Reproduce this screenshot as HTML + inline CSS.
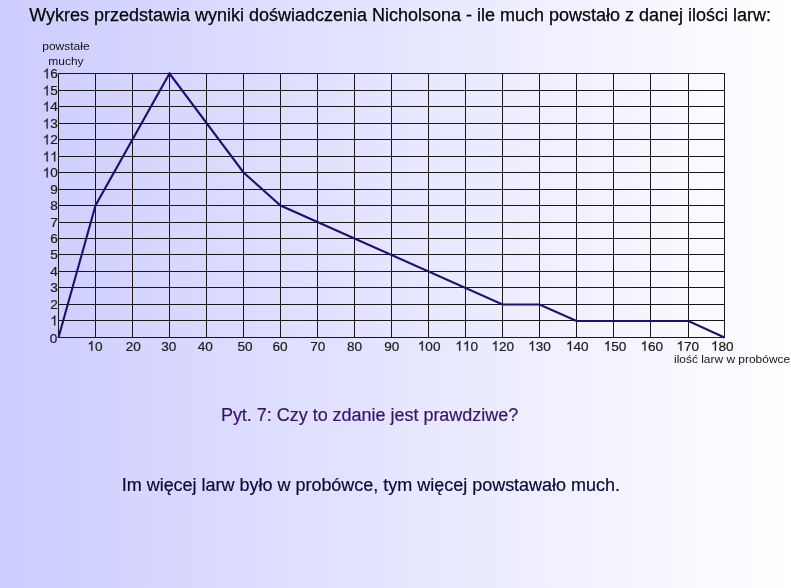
<!DOCTYPE html>
<html lang="pl"><head><meta charset="utf-8"><title>Wykres</title>
<style>
html,body{margin:0;padding:0;width:791px;height:588px;overflow:hidden;background:#fff;}
svg{display:block;will-change:transform;font-family:"Liberation Sans",sans-serif;}
.t{font-size:18px;}
.s{font-size:11.7px;fill:#141414;}
.n{font-size:13.6px;fill:#202020;stroke:#202020;stroke-width:0.22px;}
</style></head><body>
<svg width="791" height="588" viewBox="0 0 791 588">
<defs><linearGradient id="bg" x1="0" y1="0" x2="1" y2="0">
<stop offset="0" stop-color="#ccccff"/><stop offset="1" stop-color="#ffffff"/></linearGradient></defs>
<rect x="0" y="0" width="791" height="588" fill="url(#bg)"/>
<text class="t" x="29.2" y="21.2" fill="#050505" stroke="#050505" stroke-width="0.25" textLength="741.8" lengthAdjust="spacing">Wykres przedstawia wyniki doświadczenia Nicholsona - ile much powstało z danej ilości larw:</text>
<text class="s" transform="translate(65.9 50.3) scale(1.027 1)" text-anchor="middle">powstałe</text>
<text class="s" transform="translate(65.9 64.7) scale(1.027 1)" text-anchor="middle">muchy</text>
<g fill="#1c1616" shape-rendering="crispEdges"><rect x="58" y="73" width="1" height="265"/><rect x="95" y="73" width="1" height="265"/><rect x="132" y="73" width="1" height="265"/><rect x="169" y="73" width="1" height="265"/><rect x="206" y="73" width="1" height="265"/><rect x="243" y="73" width="1" height="265"/><rect x="280" y="73" width="1" height="265"/><rect x="317" y="73" width="1" height="265"/><rect x="354" y="73" width="1" height="265"/><rect x="391" y="73" width="1" height="265"/><rect x="428" y="73" width="1" height="265"/><rect x="465" y="73" width="1" height="265"/><rect x="502" y="73" width="1" height="265"/><rect x="539" y="73" width="1" height="265"/><rect x="576" y="73" width="1" height="265"/><rect x="613" y="73" width="1" height="265"/><rect x="650" y="73" width="1" height="265"/><rect x="688" y="73" width="1" height="265"/><rect x="724" y="73" width="1" height="265"/><rect x="58" y="73" width="667" height="1"/><rect x="58" y="90" width="667" height="1"/><rect x="58" y="106" width="667" height="1"/><rect x="58" y="123" width="667" height="1"/><rect x="58" y="139" width="667" height="1"/><rect x="58" y="156" width="667" height="1"/><rect x="58" y="172" width="667" height="1"/><rect x="58" y="189" width="667" height="1"/><rect x="58" y="205" width="667" height="1"/><rect x="58" y="222" width="667" height="1"/><rect x="58" y="238" width="667" height="1"/><rect x="58" y="254" width="667" height="1"/><rect x="58" y="271" width="667" height="1"/><rect x="58" y="287" width="667" height="1"/><rect x="58" y="304" width="667" height="1"/><rect x="58" y="320" width="667" height="1"/><rect x="58" y="337" width="667" height="1"/></g>
<polyline points="58.50,337.50 95.50,205.50 169.50,73.50 243.50,172.50 280.50,205.50 502.50,304.45 539.50,304.45 576.50,321.00 688.50,321.00 724.50,337.50" fill="none" stroke="#200f6e" stroke-width="2.1" stroke-linejoin="miter"/>
<g class="n">
<text x="49.74" y="343.30">0</text>
<path transform="translate(50.24 325.40) scale(0.006641 -0.006641)" d="M763 0H583V1147Q518 1085 412.5 1023Q307 961 223 930V1104Q374 1175 487 1276Q600 1377 647 1472H763Z" stroke-width="33.1"/>
<text x="50.24" y="309.40">2</text>
<text x="50.24" y="292.40">3</text>
<text x="50.24" y="276.40">4</text>
<text x="50.24" y="259.40">5</text>
<text x="50.24" y="243.40">6</text>
<text x="50.24" y="227.40">7</text>
<text x="50.24" y="210.40">8</text>
<text x="50.24" y="194.40">9</text>
<path transform="translate(42.67 177.40) scale(0.006641 -0.006641)" d="M763 0H583V1147Q518 1085 412.5 1023Q307 961 223 930V1104Q374 1175 487 1276Q600 1377 647 1472H763Z" stroke-width="33.1"/><text x="50.24" y="177.40">0</text>
<path transform="translate(42.67 161.40) scale(0.006641 -0.006641)" d="M763 0H583V1147Q518 1085 412.5 1023Q307 961 223 930V1104Q374 1175 487 1276Q600 1377 647 1472H763Z" stroke-width="33.1"/><path transform="translate(50.24 161.40) scale(0.006641 -0.006641)" d="M763 0H583V1147Q518 1085 412.5 1023Q307 961 223 930V1104Q374 1175 487 1276Q600 1377 647 1472H763Z" stroke-width="33.1"/>
<path transform="translate(42.67 144.40) scale(0.006641 -0.006641)" d="M763 0H583V1147Q518 1085 412.5 1023Q307 961 223 930V1104Q374 1175 487 1276Q600 1377 647 1472H763Z" stroke-width="33.1"/><text x="50.24" y="144.40">2</text>
<path transform="translate(42.67 128.40) scale(0.006641 -0.006641)" d="M763 0H583V1147Q518 1085 412.5 1023Q307 961 223 930V1104Q374 1175 487 1276Q600 1377 647 1472H763Z" stroke-width="33.1"/><text x="50.24" y="128.40">3</text>
<path transform="translate(42.67 111.40) scale(0.006641 -0.006641)" d="M763 0H583V1147Q518 1085 412.5 1023Q307 961 223 930V1104Q374 1175 487 1276Q600 1377 647 1472H763Z" stroke-width="33.1"/><text x="50.24" y="111.40">4</text>
<path transform="translate(42.67 95.40) scale(0.006641 -0.006641)" d="M763 0H583V1147Q518 1085 412.5 1023Q307 961 223 930V1104Q374 1175 487 1276Q600 1377 647 1472H763Z" stroke-width="33.1"/><text x="50.24" y="95.40">5</text>
<path transform="translate(42.67 78.40) scale(0.006641 -0.006641)" d="M763 0H583V1147Q518 1085 412.5 1023Q307 961 223 930V1104Q374 1175 487 1276Q600 1377 647 1472H763Z" stroke-width="33.1"/><text x="50.24" y="78.40">6</text>
<path transform="translate(87.34 350.75) scale(0.006641 -0.006641)" d="M763 0H583V1147Q518 1085 412.5 1023Q307 961 223 930V1104Q374 1175 487 1276Q600 1377 647 1472H763Z" stroke-width="33.1"/><text x="94.90" y="350.75">0</text>
<text x="125.74" y="350.75">2</text><text x="133.30" y="350.75">0</text>
<text x="161.14" y="350.75">3</text><text x="168.70" y="350.75">0</text>
<text x="197.64" y="350.75">4</text><text x="205.20" y="350.75">0</text>
<text x="237.44" y="350.75">5</text><text x="245.00" y="350.75">0</text>
<text x="272.39" y="350.75">6</text><text x="279.95" y="350.75">0</text>
<text x="310.14" y="350.75">7</text><text x="317.70" y="350.75">0</text>
<text x="347.04" y="350.75">8</text><text x="354.60" y="350.75">0</text>
<text x="384.14" y="350.75">9</text><text x="391.70" y="350.75">0</text>
<path transform="translate(417.75 350.75) scale(0.006641 -0.006641)" d="M763 0H583V1147Q518 1085 412.5 1023Q307 961 223 930V1104Q374 1175 487 1276Q600 1377 647 1472H763Z" stroke-width="33.1"/><text x="425.32" y="350.75">0</text><text x="432.88" y="350.75">0</text>
<path transform="translate(455.25 350.75) scale(0.006641 -0.006641)" d="M763 0H583V1147Q518 1085 412.5 1023Q307 961 223 930V1104Q374 1175 487 1276Q600 1377 647 1472H763Z" stroke-width="33.1"/><path transform="translate(462.82 350.75) scale(0.006641 -0.006641)" d="M763 0H583V1147Q518 1085 412.5 1023Q307 961 223 930V1104Q374 1175 487 1276Q600 1377 647 1472H763Z" stroke-width="33.1"/><text x="470.38" y="350.75">0</text>
<path transform="translate(491.45 350.75) scale(0.006641 -0.006641)" d="M763 0H583V1147Q518 1085 412.5 1023Q307 961 223 930V1104Q374 1175 487 1276Q600 1377 647 1472H763Z" stroke-width="33.1"/><text x="499.02" y="350.75">2</text><text x="506.58" y="350.75">0</text>
<path transform="translate(528.10 350.75) scale(0.006641 -0.006641)" d="M763 0H583V1147Q518 1085 412.5 1023Q307 961 223 930V1104Q374 1175 487 1276Q600 1377 647 1472H763Z" stroke-width="33.1"/><text x="535.67" y="350.75">3</text><text x="543.23" y="350.75">0</text>
<path transform="translate(565.95 350.75) scale(0.006641 -0.006641)" d="M763 0H583V1147Q518 1085 412.5 1023Q307 961 223 930V1104Q374 1175 487 1276Q600 1377 647 1472H763Z" stroke-width="33.1"/><text x="573.52" y="350.75">4</text><text x="581.08" y="350.75">0</text>
<path transform="translate(603.65 350.75) scale(0.006641 -0.006641)" d="M763 0H583V1147Q518 1085 412.5 1023Q307 961 223 930V1104Q374 1175 487 1276Q600 1377 647 1472H763Z" stroke-width="33.1"/><text x="611.22" y="350.75">5</text><text x="618.78" y="350.75">0</text>
<path transform="translate(640.45 350.75) scale(0.006641 -0.006641)" d="M763 0H583V1147Q518 1085 412.5 1023Q307 961 223 930V1104Q374 1175 487 1276Q600 1377 647 1472H763Z" stroke-width="33.1"/><text x="648.02" y="350.75">6</text><text x="655.58" y="350.75">0</text>
<path transform="translate(676.45 350.75) scale(0.006641 -0.006641)" d="M763 0H583V1147Q518 1085 412.5 1023Q307 961 223 930V1104Q374 1175 487 1276Q600 1377 647 1472H763Z" stroke-width="33.1"/><text x="684.02" y="350.75">7</text><text x="691.58" y="350.75">0</text>
<path transform="translate(710.95 350.75) scale(0.006641 -0.006641)" d="M763 0H583V1147Q518 1085 412.5 1023Q307 961 223 930V1104Q374 1175 487 1276Q600 1377 647 1472H763Z" stroke-width="33.1"/><text x="718.52" y="350.75">8</text><text x="726.08" y="350.75">0</text>
</g>
<text class="s" transform="translate(674 363.4) scale(1.022 1)">ilość larw w probówce</text>
<text class="t" x="220.9" y="420.8" fill="#3a126e" stroke="#3a126e" stroke-width="0.2" textLength="297.3" lengthAdjust="spacing">Pyt. 7: Czy to zdanie jest prawdziwe?</text>
<text class="t" x="121.7" y="490.7" fill="#0a0a3a" stroke="#0a0a3a" stroke-width="0.2" textLength="498.3" lengthAdjust="spacing">Im więcej larw było w probówce, tym więcej powstawało much.</text>
</svg>
</body></html>
